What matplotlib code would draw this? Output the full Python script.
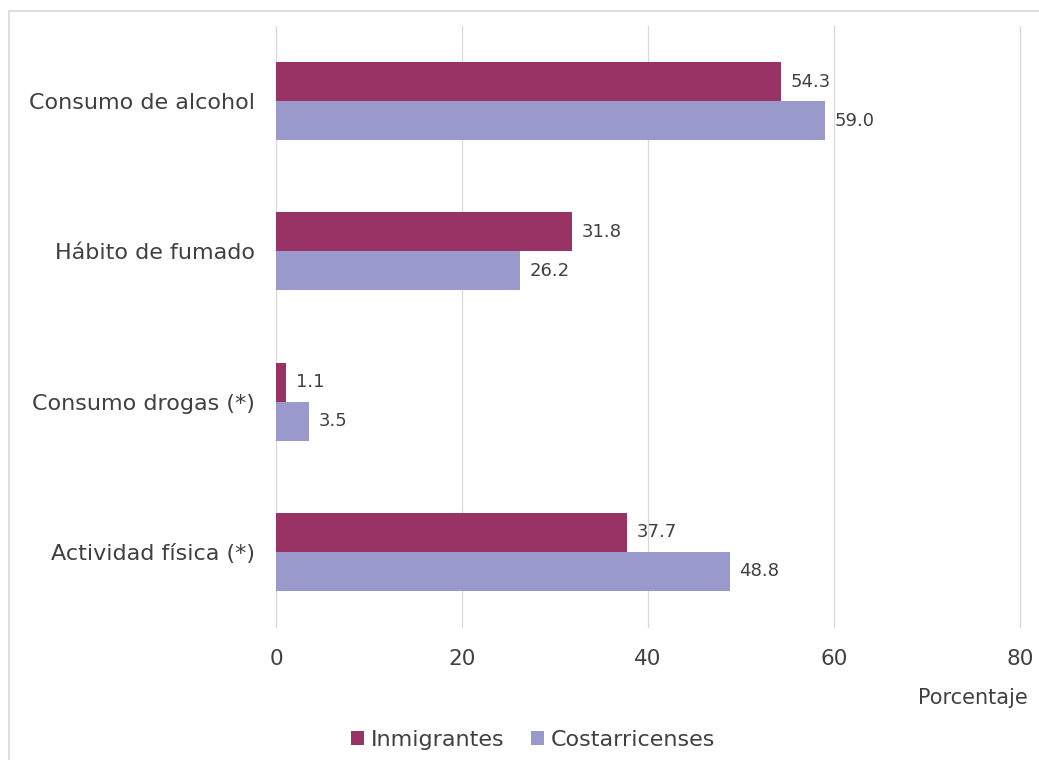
import numpy as np
import matplotlib.pyplot as plt
from matplotlib.patches import Rectangle

categories = ["Consumo de alcohol", "Hábito de fumado", "Consumo drogas (*)", "Actividad física (*)"]
inmigrantes = [54.3, 31.8, 1.1, 37.7]
costarricenses = [59.0, 26.2, 3.5, 48.8]
xticks = [0, 20, 40, 60, 80]

col_inm = "#993366"
col_cr = "#9999cc"
txt = "#404040"
grid_col = "#d9d9d9"

fig = plt.figure(figsize=(10.39, 7.6), dpi=100)
ax = fig.add_axes([276 / 1039, 1 - 627 / 760, 744 / 1039, 601 / 760])

# outer chart frame (cropped on the right and bottom)
fig.patches.append(Rectangle((9 / 1039, -0.1), 1.2, 1.1 - 11 / 760,
                             transform=fig.transFigure, fill=False,
                             edgecolor=grid_col, linewidth=1.2))

y = np.arange(len(categories))
h = 0.26
b1 = ax.barh(y - h / 2, inmigrantes, height=h, color=col_inm, label="Inmigrantes")
b2 = ax.barh(y + h / 2, costarricenses, height=h, color=col_cr, label="Costarricenses")
ax.bar_label(b1, labels=[f"{v:.1f}" for v in inmigrantes], padding=7, fontsize=13, color=txt)
ax.bar_label(b2, labels=[f"{v:.1f}" for v in costarricenses], padding=7, fontsize=13, color=txt)

ax.set_xlim(0, 80)
ax.set_ylim(len(categories) - 0.5, -0.5)
ax.set_xticks(xticks)
ax.set_yticks(y)
ax.set_yticklabels(categories)
ax.tick_params(axis="y", length=0, pad=15, labelsize=16, labelcolor=txt)
ax.tick_params(axis="x", length=0, pad=16, labelsize=15.5, labelcolor=txt)
ax.xaxis.grid(True, color=grid_col, linewidth=0.9)
for gl in ax.get_xgridlines():
    gl.set_clip_on(False)
ax.set_axisbelow(True)
for s in ax.spines.values():
    s.set_visible(False)

fig.text(1028 / 1039, 1 - 698 / 760, "Porcentaje", ha="right", va="center",
         fontsize=15, color=txt)
fig.legend(handles=[b1, b2], loc="center", bbox_to_anchor=(533 / 1039, 1 - 740 / 760),
           ncol=2, frameon=False, fontsize=16, labelcolor=txt,
           handlelength=0.6, handleheight=0.6, handletextpad=0.3, columnspacing=1.2)

fig.savefig("out.png", dpi=100)
